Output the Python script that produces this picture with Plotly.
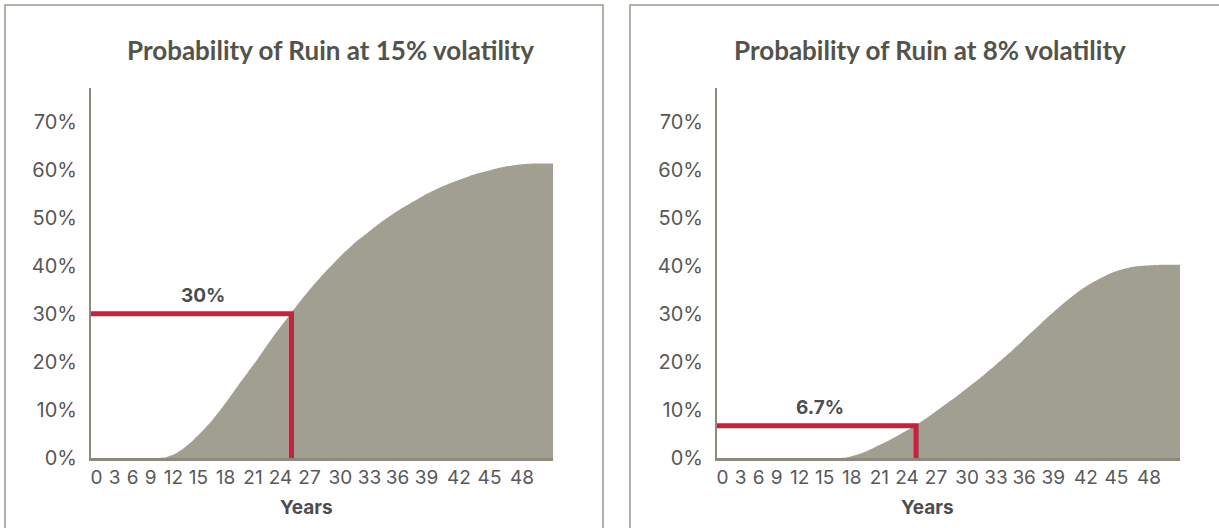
import plotly.graph_objects as go

# Position along the horizontal axis (0..50) and tick labels in years
pos = list(range(51))
tick_pos = [0.6, 2.55, 4.5, 6.45, 8.93, 11.63, 14.56, 17.53, 20.51, 23.65,
            27.0, 30.14, 33.17, 36.31, 39.83, 43.13, 46.65]
tick_text = ["0", "3", "6", "9", "12", "15", "18", "21", "24", "27",
             "30", "33", "36", "39", "42", "45", "48"]

# Probability of ruin, 15% volatility
ruin_15 = [0, 0, 0, 0, 0, 0, 0, 0, 0.001, 0.008, 0.020, 0.036, 0.055, 0.076,
           0.100, 0.126, 0.153, 0.179, 0.205, 0.233, 0.260, 0.285, 0.310,
           0.335, 0.358, 0.380, 0.400, 0.420, 0.438, 0.455, 0.470, 0.485,
           0.499, 0.512, 0.524, 0.535, 0.546, 0.556, 0.565, 0.573, 0.580,
           0.587, 0.593, 0.598, 0.603, 0.607, 0.610, 0.612, 0.613, 0.613, 0.613]

# Probability of ruin, 8% volatility
ruin_8 = [0, 0, 0, 0, 0, 0, 0, 0, 0, 0, 0, 0, 0, 0, 0.001, 0.006, 0.013,
          0.022, 0.031, 0.041, 0.052, 0.063, 0.075, 0.088, 0.102, 0.116,
          0.130, 0.145, 0.160, 0.176, 0.192, 0.209, 0.226, 0.244, 0.262,
          0.280, 0.298, 0.315, 0.331, 0.346, 0.359, 0.370, 0.380, 0.388,
          0.394, 0.398, 0.400, 0.401, 0.402, 0.402, 0.402]

# Highlighted reading on each chart: position, probability and its label
mark_pos = [21.7, 21.5]
mark_val = [0.30, 0.067]
mark_text = ["30%", "6.7%"]
mark_label_pos = [12.1, 11.1]

titles = ["Probability of Ruin at 15% volatility",
          "Probability of Ruin at 8% volatility"]

W, H = 1219, 528
AREA = "#a19f92"
RED = "#c8203f"
AXIS = "#8d8a7b"
TEXT = "#58585a"
TITLE = "#54534a"

fig = go.Figure()

panels = [
    dict(x0=91, x1=553, series=ruin_15, bx0=5, bx1=603, tx=330, yx=306),
    dict(x0=717, x1=1180, series=ruin_8, bx0=630, bx1=1230, tx=930, yx=928),
]
y_bot, y_top = 458, 88

for i, p in enumerate(panels):
    xa = "x" if i == 0 else "x2"
    ya = "y" if i == 0 else "y2"
    fig.add_trace(go.Scatter(
        x=pos, y=p["series"], mode="lines",
        line=dict(width=0, color=AREA, shape="spline", smoothing=0.6),
        fill="tozeroy", fillcolor=AREA, xaxis=xa, yaxis=ya,
        showlegend=False, hoverinfo="skip"))
    mp, mv = mark_pos[i], mark_val[i]
    fig.add_trace(go.Scatter(
        x=[0, mp, mp], y=[mv, mv, 0], mode="lines",
        line=dict(width=5, color=RED), xaxis=xa, yaxis=ya,
        showlegend=False, hoverinfo="skip"))
    fig.add_annotation(
        x=mark_label_pos[i], y=mv, xref=xa, yref=ya,
        text=f"<b>{mark_text[i]}</b>", showarrow=False,
        xanchor="center", yanchor="bottom", yshift=5,
        font=dict(family="Inter", size=19, color="#4d4d4f"))

    # panel frame
    fig.add_shape(type="rect", xref="paper", yref="paper",
                  x0=p["bx0"] / W, x1=p["bx1"] / W, y0=-0.05, y1=1 - 5 / H,
                  line=dict(color="#9c998c", width=1.5), layer="below")

    # chart title and axis caption
    fig.add_annotation(
        x=p["tx"] / W, y=1 - 50 / H, xref="paper", yref="paper",
        xanchor="center", yanchor="middle",
        text=f"<b>{titles[i]}</b>", showarrow=False,
        font=dict(family="Lato", size=26, color=TITLE))
    fig.add_annotation(
        x=p["yx"] / W, y=1 - 507 / H, xref="paper", yref="paper",
        xanchor="center", yanchor="middle",
        text="<b>Years</b>", showarrow=False,
        font=dict(family="Inter", size=19, color="#4d4d4f"))

    xkey = "xaxis" if i == 0 else "xaxis2"
    ykey = "yaxis" if i == 0 else "yaxis2"
    fig.update_layout(**{
        xkey: dict(domain=[p["x0"] / W, p["x1"] / W], range=[0, 50],
                   anchor=ya, showgrid=False, zeroline=False, automargin=False,
                   showline=True, linecolor=AXIS, linewidth=2.5,
                   tickmode="array", tickvals=tick_pos, ticktext=tick_text,
                   ticks="", ticklabelstandoff=0,
                   tickfont=dict(family="Inter", size=19, color=TEXT)),
        ykey: dict(domain=[1 - y_bot / H, 1 - y_top / H], range=[0, 0.77],
                   anchor=xa, showgrid=False, zeroline=False, automargin=False,
                   showline=True, linecolor=AXIS, linewidth=2,
                   tickmode="array",
                   tickvals=[0, 0.1, 0.2, 0.3, 0.4, 0.5, 0.6, 0.7],
                   tickformat=".0%", ticks="", ticklabelstandoff=8,
                   tickfont=dict(family="Inter", size=20, color=TEXT)),
    })

fig.update_layout(
    width=W, height=H,
    margin=dict(l=0, r=0, t=0, b=0, pad=0, autoexpand=False),
    paper_bgcolor="white", plot_bgcolor="white", showlegend=False,
)

fig.write_html("out.html")
